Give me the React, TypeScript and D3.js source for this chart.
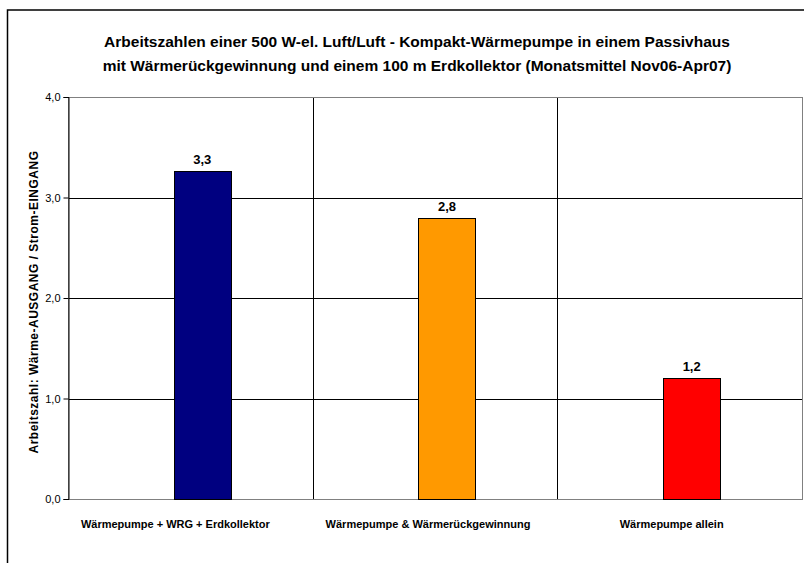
import React, { useEffect, useRef } from 'react';
import * as d3 from 'd3';

// chart data
const categories = [
  'Wärmepumpe + WRG + Erdkollektor',
  'Wärmepumpe & Wärmerückgewinnung',
  'Wärmepumpe allein',
];
const values = [3.26, 2.8, 1.2];
const valueLabels = ['3,3', '2,8', '1,2'];
const barColors = ['#000080', '#FF9900', '#FF0000'];
const yTicks = [0, 1, 2, 3, 4];
const titleLines = [
  'Arbeitszahlen einer 500 W-el. Luft/Luft - Kompakt-Wärmepumpe in einem Passivhaus',
  'mit Wärmerückgewinnung und einem 100 m Erdkollektor (Monatsmittel Nov06-Apr07)',
];
const yTitle = 'Arbeitszahl: Wärme-AUSGANG / Strom-EINGANG';

const App = () => {
  const ref = useRef<SVGSVGElement>(null);

  useEffect(() => {
    const svg = d3.select(ref.current);
    svg.selectAll('*').remove();

    const plot = { left: 68, right: 802, top: 97, bottom: 499 };
    const font = 'Liberation Sans, Arial, sans-serif';
    // excel places the category labels slightly left of the band centre
    const labelShift = [-15, -7, -8];

    // outer chart border (runs past the right and bottom edge of the picture)
    svg
      .append('rect')
      .attr('x', 7.5)
      .attr('y', 10)
      .attr('width', 830)
      .attr('height', 600)
      .attr('fill', '#fff')
      .attr('stroke', '#000')
      .attr('stroke-width', 1.5);

    // title
    svg
      .append('g')
      .selectAll('text')
      .data(titleLines)
      .join('text')
      .attr('x', 417)
      .attr('y', (d, i) => 47 + i * 24)
      .attr('text-anchor', 'middle')
      .attr('font-family', font)
      .attr('font-size', 15.5)
      .attr('font-weight', 'bold')
      .text((d) => d);

    // scales
    const x = d3
      .scaleBand()
      .domain(categories)
      .range([plot.left, plot.right])
      .padding(0);

    const y = d3.scaleLinear().domain([0, 4]).range([plot.bottom, plot.top]);

    // horizontal gridlines
    svg
      .append('g')
      .selectAll('line')
      .data(yTicks.slice(1, -1))
      .join('line')
      .attr('x1', plot.left)
      .attr('x2', plot.right)
      .attr('y1', (d) => Math.round(y(d)) + 0.5)
      .attr('y2', (d) => Math.round(y(d)) + 0.5)
      .attr('stroke', '#000');

    // vertical category gridlines
    svg
      .append('g')
      .selectAll('line')
      .data(categories.slice(1))
      .join('line')
      .attr('x1', (d) => Math.round(x(d)!) + 0.5)
      .attr('x2', (d) => Math.round(x(d)!) + 0.5)
      .attr('y1', plot.top)
      .attr('y2', plot.bottom)
      .attr('stroke', '#000');

    // plot area border
    svg
      .append('rect')
      .attr('x', plot.left + 0.5)
      .attr('y', plot.top + 0.5)
      .attr('width', plot.right - plot.left)
      .attr('height', plot.bottom - plot.top)
      .attr('fill', 'none')
      .attr('stroke', '#808080');

    // bars
    const barW = 57;
    const barShift = 12;
    svg
      .append('g')
      .selectAll('rect')
      .data(values)
      .join('rect')
      .attr('x', (d, i) => Math.round(x(categories[i])! + x.bandwidth() / 2 + barShift - barW / 2) + 0.5)
      .attr('y', (d) => Math.round(y(d)) + 0.5)
      .attr('width', barW)
      .attr('height', (d) => y(0) - Math.round(y(d)))
      .attr('fill', (d, i) => barColors[i])
      .attr('stroke', '#000');

    // value labels
    svg
      .append('g')
      .selectAll('text')
      .data(values)
      .join('text')
      .attr('x', (d, i) => x(categories[i])! + x.bandwidth() / 2 + barShift)
      .attr('y', (d) => y(d) - 7)
      .attr('text-anchor', 'middle')
      .attr('font-family', font)
      .attr('font-size', 13)
      .attr('font-weight', 'bold')
      .text((d, i) => valueLabels[i]);

    // y axis line + ticks
    const yAxis = svg
      .append('g')
      .attr('transform', `translate(${plot.left + 0.5},0)`)
      .call(
        d3
          .axisLeft(y)
          .tickValues(yTicks)
          .tickSize(5)
          .tickPadding(3)
          .tickFormat((d) => d3.format('.1f')(d as number).replace('.', ','))
      );
    yAxis.select('.domain').attr('stroke', '#000');
    yAxis.selectAll('.tick line').attr('stroke', '#000');
    yAxis
      .selectAll('.tick text')
      .attr('font-family', font)
      .attr('font-size', 11)
      .attr('fill', '#000');

    // y axis title
    svg
      .append('text')
      .attr('transform', `translate(38,${(plot.top + plot.bottom) / 2 + 4}) rotate(-90)`)
      .attr('text-anchor', 'middle')
      .attr('font-family', font)
      .attr('font-size', 12)
      .attr('letter-spacing', 0.5)
      .attr('font-weight', 'bold')
      .text(yTitle);

    // category labels
    svg
      .append('g')
      .selectAll('text')
      .data(categories)
      .join('text')
      .attr('x', (d, i) => x(d)! + x.bandwidth() / 2 + labelShift[i])
      .attr('y', 528)
      .attr('text-anchor', 'middle')
      .attr('font-family', font)
      .attr('font-size', 11)
      .attr('font-weight', 'bold')
      .text((d) => d);
  }, []);

  return (
    <svg
      ref={ref}
      width={804}
      height={563}
      style={{ position: 'absolute', left: 0, top: 0, background: '#fff' }}
    ></svg>
  );
};

export default App;
